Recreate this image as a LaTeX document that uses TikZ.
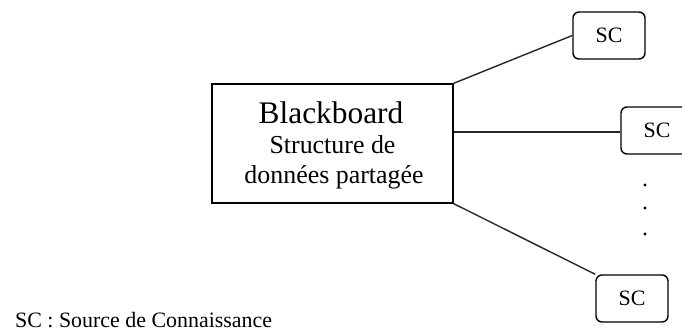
\documentclass[tikz,border=0pt]{standalone}
\usepackage{fontspec}
\setmainfont{Liberation Serif}
\begin{document}
\begin{tikzpicture}[x=1bp,y=-1bp,
  line/.style={line width=1.4bp,black!85},
  scbox/.style={draw,line width=1.4bp,rounded corners=6bp,minimum width=72bp,minimum height=47bp,inner sep=0pt,font=\fontsize{22}{24}\selectfont},
  hub/.style={draw,line width=1.4bp,minimum width=241bp,minimum height=119bp,inner sep=0pt},
  dot/.style={circle,fill=black,inner sep=0pt,minimum size=3.2bp}]
\useasboundingbox (0,0) rectangle (682,333);
\clip (0,0) rectangle (682,333);
% central blackboard
\node[hub] (bb) at (332.5,143.5) {};
\node[anchor=base,font=\fontsize{31.5}{33}\selectfont] (title) at (331,123) {Blackboard};
\node[anchor=base,font=\fontsize{26}{28}\selectfont] (sub1) at (332.5,153) {Structure de};
\node[anchor=base,font=\fontsize{26}{28}\selectfont] (sub2) at (334,183) {données partagée};
% knowledge sources
\node[scbox] (sc1) at (609,35.5) {SC};
\node[scbox] (sc2) at (657,130.5) {SC};
\node[scbox] (sc3) at (632,298.5) {SC};
% links
\draw[line] (bb.north east) -- (sc1.west);
\draw[line] (bb.north east |- sc2.west) ++(0,1.5) coordinate (m) -- (m -| sc2.west);
\draw[line] (bb.south east) -- (sc3.north west);
% ellipsis
\node[dot] (d1) at (645,185) {};
\node[dot] (d2) at (645,208) {};
\node[dot] (d3) at (645,234) {};
% legend
\node[anchor=base west,inner sep=0pt,font=\fontsize{22}{24}\selectfont] (legend) at (15,327) {SC : Source de Connaissance};
\end{tikzpicture}
\end{document}
